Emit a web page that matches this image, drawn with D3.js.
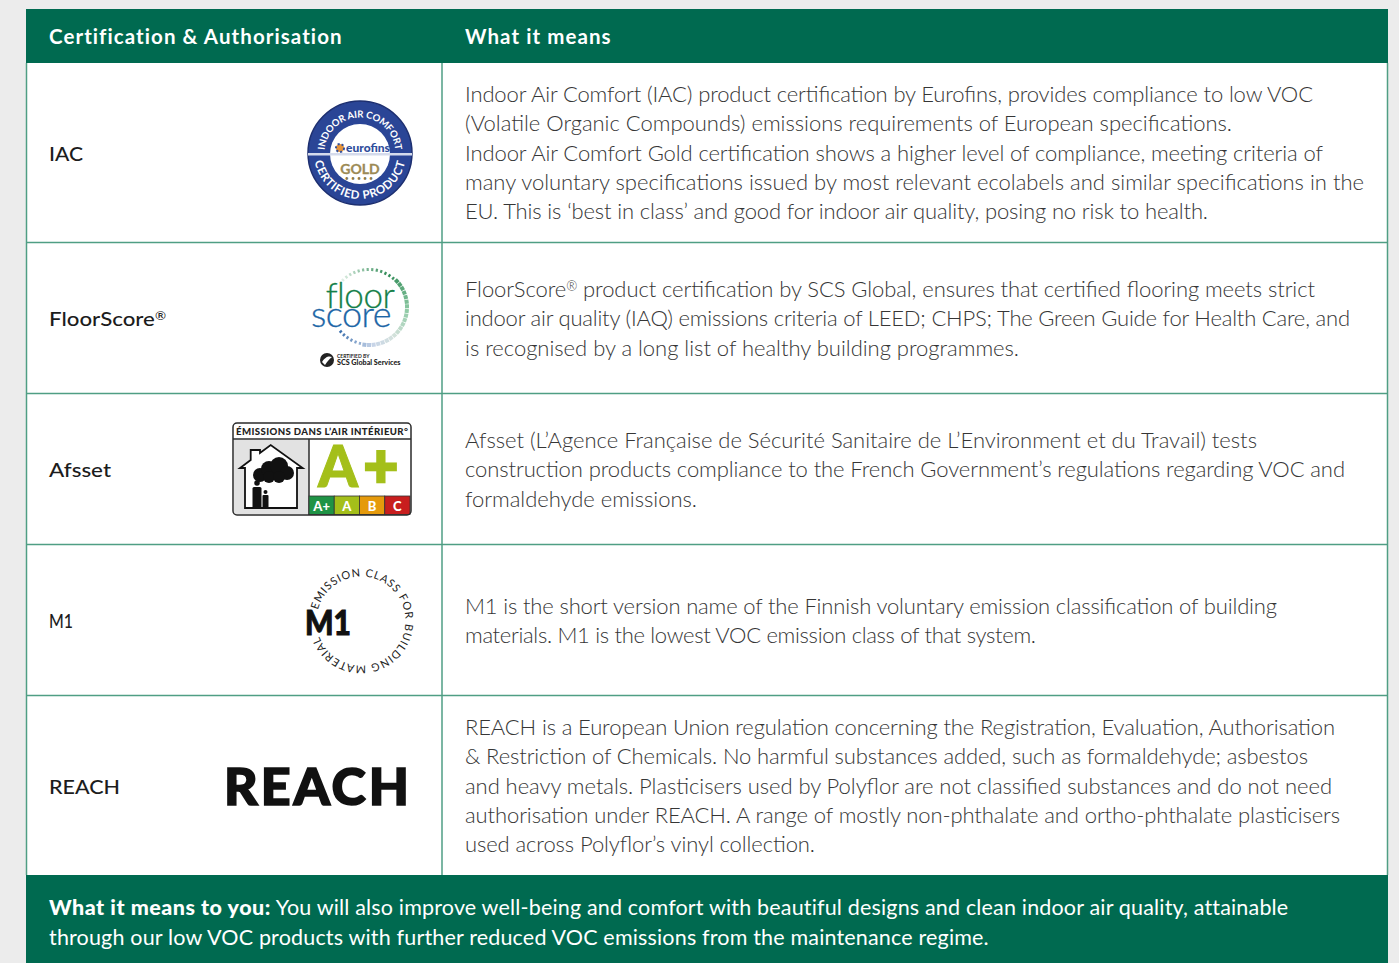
<!DOCTYPE html>
<html lang="en">
<head>
<meta charset="UTF-8">
<title>Certification &amp; Authorisation</title>
<script src="https://d3js.org/d3.v7.min.js"></script>
<style>
    html, body { margin: 0; padding: 0; background: #ececec; overflow: hidden; }
    svg { display: block; }
    text { font-family: Lato, "Open Sans", sans-serif; }
    .body-line { font-size: 22px; font-weight: 300; fill: #363636; }
    .row-label { font-size: 20px; font-weight: 500; fill: #1c1c1c; }
    .head-label { font-size: 20.5px; font-weight: 700; fill: #fff; letter-spacing: 1.07px; }
    .foot-line { font-size: 21.5px; font-weight: 400; fill: #fff; letter-spacing: 0.17px; }
    .foot-line .strong { font-weight: 900; letter-spacing: 0.5px; }
</style>
</head>
<body>
<div id="chart"></div>
<script>
const headers = ["Certification & Authorisation", "What it means"];
const certifications = ["IAC", "FloorScore®", "Afsset", "M1", "REACH"];
const descriptions = [
    ["Indoor Air Comfort (IAC) product certification by Eurofins, provides compliance to low VOC",
     "(Volatile Organic Compounds) emissions requirements of European specifications.",
     "Indoor Air Comfort Gold certification shows a higher level of compliance, meeting criteria of",
     "many voluntary specifications issued by most relevant ecolabels and similar specifications in the",
     "EU. This is ‘best in class’ and good for indoor air quality, posing no risk to health."],
    ["FloorScore® product certification by SCS Global, ensures that certified flooring meets strict",
     "indoor air quality (IAQ) emissions criteria of LEED; CHPS; The Green Guide for Health Care, and",
     "is recognised by a long list of healthy building programmes."],
    ["Afsset (L’Agence Française de Sécurité Sanitaire de L’Environment et du Travail) tests",
     "construction products compliance to the French Government’s regulations regarding VOC and",
     "formaldehyde emissions."],
    ["M1 is the short version name of the Finnish voluntary emission classification of building",
     "materials. M1 is the lowest VOC emission class of that system."],
    ["REACH is a European Union regulation concerning the Registration, Evaluation, Authorisation",
     "& Restriction of Chemicals. No harmful substances added, such as formaldehyde; asbestos",
     "and heavy metals. Plasticisers used by Polyflor are not classified substances and do not need",
     "authorisation under REACH. A range of mostly non-phthalate and ortho-phthalate plasticisers",
     "used across Polyflor’s vinyl collection."]
];
const footerLead = "What it means to you:";
const footerLines = [
    " You will also improve well-being and comfort with beautiful designs and clean indoor air quality, attainable",
    "through our low VOC products with further reduced VOC emissions from the maintenance regime."
];
const afssetGrades = ["A+", "A", "B", "C"];
const afssetColors = ["#1f9345", "#a4bf1a", "#e59a0c", "#c81e1e"];

const width = 1399, height = 963;
const green = "#006a50", rule = "#4f9e84";
const left = 26, right = 1388, divider = 442;
const rowEdges = [63, 242, 393, 544, 695, 875];
const lineHeight = 29.35;
// measured widths of the set text, the installed font runs a little different
const labelWidths = [34, 117, 62, 24, 71];
const lineWidths = [
    [848, 767, 858, 899, 743],
    [850, 885, 554],
    [792, 880, 232],
    [812, 571],
    [870, 843, 867, 875, 350]
];
const rowShift = [-0.5, 0, 0, 0, 0];

const svg = d3.select("#chart").append("svg")
    .attr("width", width)
    .attr("height", height);

const defs = svg.append("defs");

// header and footer bands
svg.append("rect").attr("x", left).attr("y", 9).attr("width", right - left).attr("height", 54).attr("fill", green);
svg.append("rect").attr("x", left + 1).attr("y", 63).attr("width", right - left - 2).attr("height", 812).attr("fill", "#fff");
svg.append("rect").attr("x", left).attr("y", 875).attr("width", right - left).attr("height", 88).attr("fill", green);

svg.selectAll(".head-label")
    .data(headers)
    .enter().append("text")
    .attr("class", "head-label")
    .attr("x", (d, i) => i ? 465 : 49)
    .attr("y", 44)
    .text(d => d);

// grid rules
svg.selectAll(".hrule")
    .data(rowEdges.slice(1, -1))
    .enter().append("line")
    .attr("class", "hrule")
    .attr("x1", left).attr("x2", right)
    .attr("y1", d => d + 0.5).attr("y2", d => d + 0.5)
    .attr("stroke", rule).attr("stroke-width", 1.5);

svg.selectAll(".vrule")
    .data([left + 0.5, divider, right - 0.5])
    .enter().append("line")
    .attr("class", "vrule")
    .attr("x1", d => d).attr("x2", d => d)
    .attr("y1", 63).attr("y2", 875)
    .attr("stroke", rule).attr("stroke-width", 1.5);

// ® is set small and raised in the reference
function setRegistered(sel, lift) {
    sel.each(function (d) {
        const t = d3.select(this);
        const parts = (d.t || d.name).split("®");
        t.append("tspan").text(parts[0]);
        if (parts.length > 1) {
            t.append("tspan").attr("dy", -lift).attr("font-size", "60%").text("®");
            t.append("tspan").attr("dy", lift).text(parts[1]);
        }
    });
}

const rows = svg.selectAll(".row")
    .data(certifications.map((name, i) => ({
        name,
        labelWidth: labelWidths[i],
        lines: descriptions[i],
        widths: lineWidths[i],
        mid: (rowEdges[i] + rowEdges[i + 1]) / 2 + rowShift[i]
    })))
    .enter().append("g")
    .attr("class", "row");

rows.append("text")
    .attr("class", "row-label")
    .attr("x", 49)
    .attr("y", d => d.mid + 8.5)
    .attr("textLength", d => d.labelWidth)
    .attr("lengthAdjust", "spacingAndGlyphs")
    .call(setRegistered, 6);

rows.selectAll(".body-line")
    .data(d => d.lines.map((t, i) => ({
        t,
        width: d.widths[i],
        y: d.mid + 8.7 + (i - (d.lines.length - 1) / 2) * lineHeight
    })))
    .enter().append("text")
    .attr("class", "body-line")
    .attr("x", 465)
    .attr("y", d => d.y)
    .attr("textLength", d => d.width)
    .attr("lengthAdjust", "spacing")
    .call(setRegistered, 6);

// footer
const foot = svg.selectAll(".foot-line")
    .data(footerLines)
    .enter().append("text")
    .attr("class", "foot-line")
    .attr("x", 49)
    .attr("y", (d, i) => 915 + i * 30);
foot.filter((d, i) => i === 0).append("tspan").attr("class", "strong").text(footerLead);
foot.append("tspan").text(d => d);

function arcText(g, id, r, startDeg, endDeg, text, opts) {
    // angles clockwise from 12 o'clock; sweep picks the reading direction
    const pt = a => [r * Math.sin(a * Math.PI / 180), -r * Math.cos(a * Math.PI / 180)];
    const sweep = endDeg > startDeg ? 1 : 0;
    const large = Math.abs(endDeg - startDeg) > 180 ? 1 : 0;
    const [x0, y0] = pt(startDeg), [x1, y1] = pt(endDeg);
    defs.append("path").attr("id", id)
        .attr("d", `M${x0},${y0}A${r},${r} 0 ${large} ${sweep} ${x1},${y1}`);
    g.append("text")
        .attr("font-size", opts.size)
        .attr("font-weight", opts.weight || 400)
        .attr("fill", opts.fill)
        .attr("letter-spacing", opts.spacing || 0)
        .attr("text-anchor", "middle")
        .append("textPath")
        .attr("href", "#" + id)
        .attr("startOffset", "50%")
        .text(text);
}

// IAC / Eurofins seal
const iac = svg.append("g").attr("transform", "translate(360,153)");
iac.append("circle").attr("r", 52).attr("fill", "#2a4596");
iac.append("circle").attr("r", 52).attr("fill", "none").attr("stroke", "#1d2f70").attr("stroke-width", 1.5);
iac.append("circle").attr("cy", 1).attr("r", 30).attr("fill", "#fff");
iac.append("rect").attr("x", -52).attr("y", 0).attr("width", 104).attr("height", 2.5).attr("fill", "#d5dbec");
arcText(iac, "iac-top", 35.5, -125, 125, "INDOOR AIR COMFORT", { size: 9.6, weight: 700, fill: "#fff", spacing: -0.1 });
arcText(iac, "iac-low", 46, 258, 102, "CERTIFIED PRODUCT", { size: 11.5, weight: 700, fill: "#fff", spacing: 0.7 });
iac.append("text").attr("x", 8).attr("y", -1)
    .attr("text-anchor", "middle").attr("font-size", 12).attr("font-weight", 900).attr("fill", "#2f4e9c").text("eurofins");
iac.append("circle").attr("cx", -20).attr("cy", -5).attr("r", 4).attr("fill", "#e8953a").attr("stroke", "#2f4e9c").attr("stroke-width", 2).attr("stroke-dasharray", "2 2");
iac.append("text").attr("y", 21).attr("text-anchor", "middle").attr("font-size", 14).attr("font-weight", 700)
    .attr("fill", "#9c8a55").attr("stroke", "#9c8a55").attr("stroke-width", 0.3).text("GOLD");
iac.append("text").attr("y", 28).attr("text-anchor", "middle").attr("font-size", 7).attr("letter-spacing", 2)
    .attr("fill", "#8a7a4a").text("•••••");

// FloorScore mark
const fsRing = svg.append("g").attr("transform", "translate(369,307)");
const ringAngles = d3.range(-44, 236, 7);
const ringColor = d3.scaleLinear().domain([-44, 30, 95, 140, 175, 234])
    .range(["#dfeee4", "#2f8a55", "#8fcaa5", "#d5e2dc", "#c6d3e8", "#2f67a8"]);
fsRing.selectAll(".ring-tick")
    .data(ringAngles)
    .enter().append("line")
    .attr("class", "ring-tick")
    .attr("x1", 0).attr("x2", 0)
    .attr("y1", -36).attr("y2", d => d > 40 && d < 190 ? -40 : -39)
    .attr("transform", d => `rotate(${d})`)
    .attr("stroke", ringColor)
    .attr("stroke-width", d => d > 40 && d < 190 ? 4 : 2.2);
const fs = svg.append("g").attr("transform", "translate(360,307)");
fs.append("text").attr("x", 0).attr("y", 1).attr("text-anchor", "middle")
    .attr("font-size", 35).attr("font-weight", 300).attr("fill", "#138048").attr("stroke", "#138048").attr("stroke-width", 0.3)
    .attr("letter-spacing", -0.5).text("floor");
fs.append("text").attr("x", -9).attr("y", 20).attr("text-anchor", "middle")
    .attr("font-size", 36).attr("font-weight", 300).attr("fill", "#1c66a6").attr("stroke", "#1c66a6").attr("stroke-width", 0.3)
    .attr("letter-spacing", -0.5).text("score");
fs.append("circle").attr("cx", -33).attr("cy", 53).attr("r", 7).attr("fill", "#222");
fs.append("path").attr("d", "M-38,55C-34,49 -31,49 -28,50C-31,52 -33,55 -35,58").attr("fill", "#fff");
fs.append("text").attr("x", -23).attr("y", 50.5).attr("font-size", 5).attr("font-weight", 700).attr("fill", "#222").text("CERTIFIED BY");
fs.append("text").attr("x", -23).attr("y", 57.5).attr("font-size", 7.2).attr("font-weight", 900).attr("fill", "#222").text("SCS Global Services");

// Afsset label
const af = svg.append("g").attr("transform", "translate(233,423)");
af.append("rect").attr("width", 178).attr("height", 92).attr("rx", 4).attr("fill", "#fff");
af.append("rect").attr("x", 1).attr("y", 17).attr("width", 75).attr("height", 74).attr("fill", "#e2e2e2");
af.append("text").attr("x", 3).attr("y", 11.5).attr("font-size", 9.6).attr("font-weight", 900)
    .attr("textLength", 172).attr("lengthAdjust", "spacing")
    .attr("fill", "#222").text("ÉMISSIONS DANS L’AIR INTÉRIEUR°");
af.append("line").attr("x1", 0).attr("x2", 178).attr("y1", 16).attr("y2", 16).attr("stroke", "#2b2b2b").attr("stroke-width", 1.5);
af.append("line").attr("x1", 76).attr("x2", 76).attr("y1", 16).attr("y2", 92).attr("stroke", "#2b2b2b").attr("stroke-width", 1.5);
af.append("path").attr("d", "M12,85V45H7L17.7,37V27H27V30L37.7,22L69.7,45H64V85Z")
    .attr("fill", "#fff").attr("stroke", "#111").attr("stroke-width", 1.8);
af.append("g").attr("fill", "#111").selectAll("circle")
    .data([[27, 52, 7], [36, 46, 8], [46, 43, 9], [54, 50, 7], [36, 54, 6], [46, 54, 6]])
    .enter().append("circle")
    .attr("cx", d => d[0]).attr("cy", d => d[1]).attr("r", d => d[2]);
af.append("circle").attr("cx", 24).attr("cy", 60).attr("r", 2.8).attr("fill", "#111");
af.append("rect").attr("x", 19.5).attr("y", 64).attr("width", 9).attr("height", 21).attr("rx", 1.5).attr("fill", "#111");
af.append("circle").attr("cx", 32.5).attr("cy", 69).attr("r", 2).attr("fill", "#111");
af.append("rect").attr("x", 29.5).attr("y", 72).attr("width", 6).attr("height", 13).attr("rx", 1).attr("fill", "#111");
af.append("text").attr("x", 105).attr("y", 64).attr("text-anchor", "middle").attr("font-size", 57).attr("font-weight", 900)
    .attr("fill", "#a4bf1a").attr("stroke", "#a4bf1a").attr("stroke-width", 1).text("A");
af.append("text").attr("x", 148).attr("y", 64).attr("text-anchor", "middle").attr("font-size", 60).attr("font-weight", 900)
    .attr("fill", "#a4bf1a").attr("stroke", "#a4bf1a").attr("stroke-width", 2.5).text("+");
const gradeX = d3.scaleBand().domain(afssetGrades).range([76, 177]);
af.selectAll(".grade")
    .data(afssetGrades)
    .enter().append("rect")
    .attr("class", "grade")
    .attr("x", d => gradeX(d)).attr("y", 73)
    .attr("width", gradeX.bandwidth()).attr("height", 18.5)
    .attr("fill", (d, i) => afssetColors[i])
    .attr("stroke", "#333").attr("stroke-width", 0.8);
af.selectAll(".grade-label")
    .data(afssetGrades)
    .enter().append("text")
    .attr("class", "grade-label")
    .attr("x", d => gradeX(d) + gradeX.bandwidth() / 2).attr("y", 87.5)
    .attr("text-anchor", "middle").attr("font-size", 13).attr("font-weight", 900).attr("fill", "#fff")
    .text(d => d);
af.append("rect").attr("width", 178).attr("height", 92).attr("rx", 4).attr("fill", "none").attr("stroke", "#2b2b2b").attr("stroke-width", 1.5);

// M1 ring
const m1 = svg.append("g").attr("transform", "translate(361,621)");
arcText(m1, "m1-ring", 44.5, -80, 255, "EMISSION CLASS FOR BUILDING MATERIAL", { size: 11, weight: 400, fill: "#222", spacing: 0.85 });
m1.append("text").attr("x", -56).attr("y", 14).attr("font-size", 34).attr("font-weight", 900)
    .attr("textLength", 46).attr("lengthAdjust", "spacingAndGlyphs")
    .attr("fill", "#111").attr("stroke", "#111").attr("stroke-width", 1).text("M1");

// REACH wordmark
svg.append("text").attr("x", 224).attr("y", 805)
    .attr("font-size", 52).attr("font-weight", 900)
    .attr("textLength", 185).attr("lengthAdjust", "spacing")
    .attr("fill", "#111").attr("stroke", "#111").attr("stroke-width", 1.6).text("REACH");
</script>
</body>
</html>
